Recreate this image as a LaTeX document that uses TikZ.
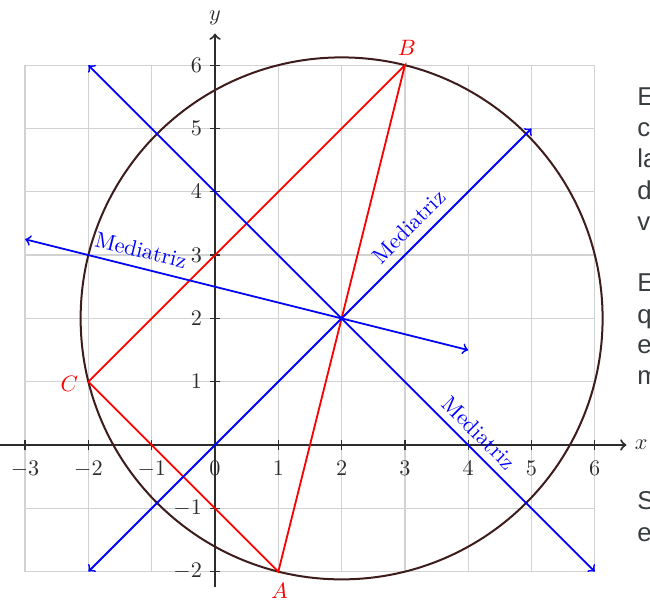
\documentclass[tikz,border=0pt]{standalone}
\usepackage{fontspec}
\newfontfamily\sidefont{Liberation Sans}
\definecolor{circ}{RGB}{62,28,28}
\definecolor{axisc}{RGB}{45,45,45}
\definecolor{sidetext}{RGB}{55,60,62}
\begin{document}
\begin{tikzpicture}[
  gridline/.style={gray!35, line width=0.6pt},
  axisline/.style={axisc, line width=0.9pt, ->},
  tri/.style={red, line width=0.8pt},
  med/.style={blue, line width=0.8pt, <->},
  circline/.style={circ, line width=0.9pt},
  tick/.style={axisc, line width=0.6pt},
  medlabel/.style={blue, font=\normalsize, inner sep=1pt},
  ptlabel/.style={red, font=\normalsize},
  sidelbl/.style={sidetext, anchor=base west, inner sep=0pt, font=\sidefont\fontsize{11.6}{14}\selectfont}
]
\useasboundingbox (-3.397,-2.449) rectangle (6.872,7.03);
% grid
\draw[gridline] (-3,-2) grid (6,6);
% axes
\coordinate (xs) at (-3.5,0);
\coordinate (xe) at (6.5,0);
\coordinate (ys) at (0,-2.25);
\coordinate (ye) at (0,6.5);
\draw[axisline] (xs) -- (xe) node[right, axisc] (xl) {$x$};
\draw[axisline] (ys) -- (ye) node[above, axisc] (yl) {$y$};
\foreach \x in {-3,-2,-1,0,1,2,3,4,5,6} {
  \draw[tick] (\x,-0.08) -- (\x,0.08);
  \node[anchor=north, axisc, inner sep=0pt] (xt\x) at (\x,-0.25) {$\x$};
}
\foreach \y in {-2,-1,1,2,3,4,5,6} {
  \draw[tick] (-0.08,\y) -- (0.08,\y);
  \node[anchor=east, axisc, inner sep=0pt] (yt\y) at (-0.2,\y) {$\y$};
}
% points
\coordinate (A) at (1,-2);
\coordinate (B) at (3,6);
\coordinate (C) at (-2,1);
\coordinate (O) at (2,2);
% circle
\draw[circline] (O) circle ({sqrt(17)});
% triangle
\draw[tri] (A) -- (B) -- (C) -- cycle;
% mediatrices
\coordinate (m1a) at (-3,3.25);
\coordinate (m1b) at (4,1.5);
\coordinate (m2a) at (-2,6);
\coordinate (m2b) at (6,-2);
\coordinate (m3a) at (-2,-2);
\coordinate (m3b) at (5,5);
\draw[med] (m1a) -- (m1b);
\draw[med] (m2a) -- (m2b);
\draw[med] (m3a) -- (m3b);
\node[medlabel, rotate=-14.04] (L1) at (-1.17,3.08) {Mediatriz};
\node[medlabel, rotate=45] (L3) at (3.06,3.45) {Mediatriz};
\node[medlabel, rotate=-45] (L2) at (4.17,0.19) {Mediatriz};
% point labels
\node[ptlabel] (lB) at (3.03,6.27) {$B$};
\node[ptlabel] (lC) at (-2.3,0.97) {$C$};
\node[ptlabel] (lA) at (1.02,-2.3) {$A$};
% side text
\node[sidelbl] (s1) at (6.667,5.371) {E};
\node[sidelbl] (s2) at (6.667,4.866) {c};
\node[sidelbl] (s3) at (6.667,4.376) {la};
\node[sidelbl] (s4) at (6.667,3.886) {d};
\node[sidelbl] (s5) at (6.667,3.381) {v};
\node[sidelbl] (s6) at (6.667,2.417) {E};
\node[sidelbl] (s7) at (6.667,1.927) {q};
\node[sidelbl] (s8) at (6.667,1.438) {e};
\node[sidelbl] (s9) at (6.667,0.948) {m};
\node[sidelbl] (s10) at (6.667,-1.027) {S};
\node[sidelbl] (s11) at (6.667,-1.517) {e};
\end{tikzpicture}
\end{document}
